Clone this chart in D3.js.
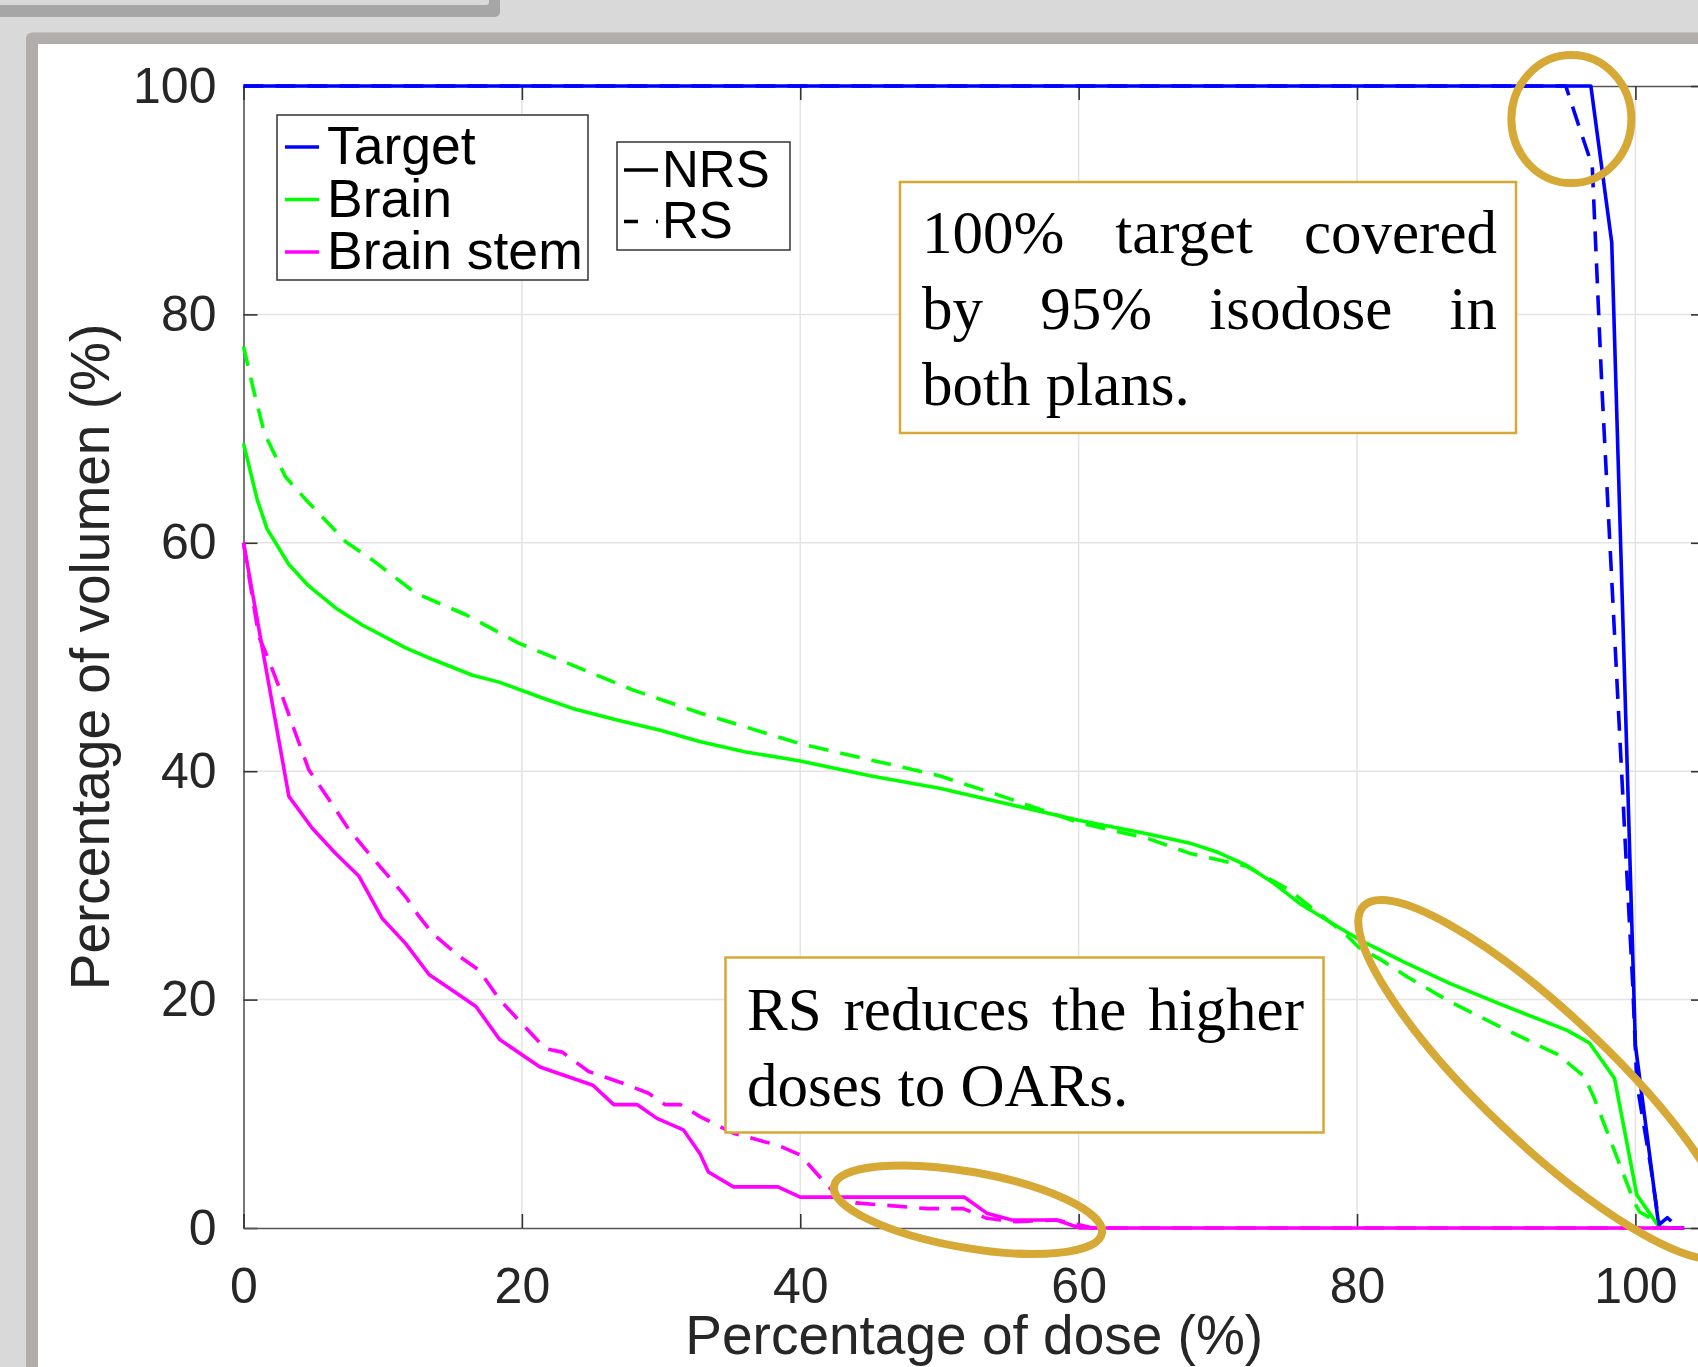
<!DOCTYPE html>
<html>
<head>
<meta charset="utf-8">
<script src="https://cdn.jsdelivr.net/npm/d3@7"></script>
<style>
  body { margin: 0; background: #d9d9d9; overflow: hidden; }
  svg { display: block; }
</style>
</head>
<body>
<div id="chart"></div>
<script>

// Dose volume histogram, NRS vs RS plan

const doseTicks = [0, 20, 40, 60, 80, 100];
const volTicks = [0, 20, 40, 60, 80, 100];
const structures = ["Target", "Brain", "Brain stem"];
const plans = ["NRS", "RS"];
const structColors = ["#0000ff", "#00ff00", "#ff00ff"];

// [dose %, volume %]
const targetNRS = [[0,100],[96.8,100],[98.3,86.3],[100.0,16],[101.7,0],[103.5,0]];
const targetRS = [[0,100],[95.0,100],[96.1,95.9],[96.9,93.0],[97.6,73.4],[99.3,33],[99.8,21.5],
  [100.1,12.7],[101.1,5.4],[101.7,0.3],[102.3,0.9],[103.1,0],[103.5,0]];

const brainNRS = [[0,68.7],[0.98,63.8],[1.7,61.2],[3.26,58.1],[4.7,56.2],[6.62,54.3],[8.53,52.8],
  [11.65,50.8],[13.57,49.8],[16.45,48.4],[18.37,47.8],[21.73,46.3],[23.64,45.5],[26.76,44.5],
  [29.88,43.6],[32.76,42.6],[36,41.7],[40,40.9],[45,39.6],[50,38.5],[55,37.1],[60,35.7],
  [65,34.5],[68,33.7],[70,32.9],[72,31.8],[74,30.2],[75.9,28.4],[79.0,26.1],[80.4,25.1],
  [83.35,23.3],[86.7,21.4],[90.3,19.6],[95.1,17.3],[96.7,16.2],[98.5,13.1],[100.1,2.9],
  [101.7,0.1],[102.6,0]];
const brainRS = [[0,77.2],[0.7,73.5],[1.5,69.6],[3.0,65.8],[4.46,63.8],[7.34,60.1],[9.25,58.5],
  [12.37,55.6],[15.97,53.7],[19.8,51.2],[23.2,49.5],[28.0,47.1],[32.8,45.1],[40,42.4],
  [45,41.0],[50,39.6],[55,37.6],[60,35.5],[65,34.1],[68,32.8],[72,31.7],[75,29.7],[79.2,25.7],
  [80.1,24.6],[81.7,23.5],[83.6,22.0],[86.7,19.8],[90.3,17.6],[94.4,15.2],[96.3,13.3],
  [97.0,11.5],[99.9,2.3],[100.3,1.4],[100.9,1.0],[101.7,0],[102.6,0]];

const stemNRS = [[0,60.0],[3.26,37.8],[4.94,35.0],[6.62,32.8],[8.3,30.8],[9.97,27.1],[11.65,24.9],
  [13.33,22.2],[15.97,20.0],[16.7,19.4],[18.4,16.5],[21.3,14.1],[25.1,12.5],[26.6,10.8],
  [28.3,10.8],[29.7,9.6],[31.6,8.6],[32.8,6.5],[33.4,4.9],[35.2,3.6],[38.4,3.6],[40.0,2.7],
  [51.8,2.7],[53.4,1.3],[55.2,0.7],[58.4,0.7],[60.1,0],[103.5,0]];
const stemRS = [[0,60],[1.1,51.8],[1.8,49.8],[2.54,47.4],[3.74,43.3],[4.7,40.1],[5.65,38.4],
  [7.57,34.9],[9.0,32.8],[10.2,31.1],[11.65,29.0],[12.6,27.3],[13.57,25.8],[15.5,23.8],
  [16.9,22.6],[18.4,20.0],[20,17.9],[21.7,15.7],[22.9,15.4],[24.8,13.7],[27.2,12.7],
  [29.1,11.8],[30.3,10.8],[31.4,10.8],[32.8,9.75],[35.2,8.3],[38.5,7.2],[40.0,6.4],
  [41.6,4.2],[42.8,2.6],[44.0,2.2],[49.1,1.7],[51.7,1.7],[53.4,0.85],[55.5,0.55],[58.4,0.7],
  [60.1,0.26],[61,0],[103.5,0]];

const note1 = ["100% target covered", "by 95% isodose in", "both plans."];
const note2 = ["RS reduces the higher", "doses to OARs."];

// page size
const width = 1698;
const height = 1367;
const plot = {left: 243.5, right: 1705, top: 86, bottom: 1228};
const sans = "'Liberation Sans', Arial, sans-serif";
const serif = "'Liberation Serif', 'Times New Roman', serif";
const gold = "#d6a936";

const svg = d3.select("#chart")
  .append("svg")
  .attr("width", width)
  .attr("height", height);

/* window frame */
svg.append("rect").attr("width", width).attr("height", height).attr("fill", "#d9d9d9");
svg.append("rect").attr("x", -10).attr("y", -10).attr("width", 510).attr("height", 27)
  .attr("rx", 5).attr("fill", "#a6a6a6");
svg.append("rect").attr("x", -10).attr("y", -10).attr("width", 499).attr("height", 15)
  .attr("rx", 3).attr("fill", "#d9d9d9");
svg.append("rect").attr("x", 26).attr("y", 32.5).attr("width", 1720).attr("height", 1400)
  .attr("rx", 6).attr("fill", "#b0adab");
svg.append("rect").attr("x", 38).attr("y", 44).attr("width", 1720).attr("height", 1400)
  .attr("fill", "#ffffff");

/* scales */
const xScale = d3.scaleLinear().domain([0, 105]).range([plot.left, plot.right]);
const yScale = d3.scaleLinear().domain([0, 100]).range([plot.bottom, plot.top]);

// grid
svg.append("g")
  .selectAll("line")
  .data(doseTicks.filter(d => d > 0))
  .enter().append("line")
    .attr("x1", d => xScale(d)).attr("x2", d => xScale(d))
    .attr("y1", plot.top).attr("y2", plot.bottom)
    .attr("stroke", "#e3e3e3").attr("stroke-width", 1.5);
svg.append("g")
  .selectAll("line")
  .data(volTicks.filter(d => d > 0 && d < 100))
  .enter().append("line")
    .attr("x1", plot.left).attr("x2", plot.right)
    .attr("y1", d => yScale(d)).attr("y2", d => yScale(d))
    .attr("stroke", "#e3e3e3").attr("stroke-width", 1.5);

// axes (ticks pointing inwards)
function styleAxis(g) {
  g.select(".domain").attr("stroke", "#555").attr("stroke-width", 1.6);
  g.selectAll(".tick line").attr("stroke", "#333").attr("stroke-width", 1.6);
  g.selectAll(".tick text").attr("fill", "#262626");
  g.attr("font-family", sans).attr("font-size", 50);
}

svg.append("g")
  .attr("transform", `translate(${plot.left},0)`)
  .call(d3.axisLeft(yScale).tickValues(volTicks).tickSize(-14).tickSizeOuter(0).tickPadding(27))
  .call(styleAxis);

svg.append("g")
  .attr("transform", `translate(0,${plot.bottom})`)
  .call(d3.axisBottom(xScale).tickValues(doseTicks).tickSize(-14).tickSizeOuter(0).tickPadding(39))
  .call(styleAxis);

svg.append("g")
  .attr("transform", `translate(0,${plot.top})`)
  .call(d3.axisTop(xScale).tickValues(doseTicks).tickSize(-14).tickSizeOuter(0).tickFormat(""))
  .call(styleAxis);

svg.append("g")
  .attr("transform", `translate(${plot.right},0)`)
  .call(d3.axisRight(yScale).tickValues(volTicks).tickSize(-14).tickSizeOuter(0).tickFormat(""))
  .call(styleAxis);

// axis titles
svg.append("text")
  .attr("x", (plot.left + plot.right) / 2)
  .attr("y", 1354)
  .attr("text-anchor", "middle")
  .attr("font-family", sans).attr("font-size", 55).attr("fill", "#262626")
  .text("Percentage of dose (%)");

svg.append("text")
  .attr("transform", `translate(109,${(plot.top + plot.bottom) / 2}) rotate(-90)`)
  .attr("text-anchor", "middle")
  .attr("font-family", sans).attr("font-size", 55).attr("fill", "#262626")
  .text("Percentage of volumen (%)");

/* curves */
svg.append("clipPath").attr("id", "plotclip")
  .append("rect")
    .attr("x", plot.left - 3).attr("y", plot.top - 3)
    .attr("width", plot.right - plot.left + 6).attr("height", plot.bottom - plot.top + 6);

const line = d3.line()
  .x(d => xScale(d[0]))
  .y(d => yScale(d[1]));

const curves = [
  {data: targetNRS, s: 0, dash: null},
  {data: brainNRS, s: 1, dash: null},
  {data: targetRS, s: 0, dash: "20,12"},
  {data: brainRS, s: 1, dash: "20,12"},
  {data: stemNRS, s: 2, dash: null},
  {data: stemRS, s: 2, dash: "20,12"}
];

svg.append("g")
  .attr("clip-path", "url(#plotclip)")
  .selectAll(".curve")
  .data(curves)
  .enter().append("path")
    .attr("class", "curve")
    .attr("d", d => line(d.data))
    .attr("fill", "none")
    .attr("stroke", d => structColors[d.s])
    .attr("stroke-width", 3.6)
    .attr("stroke-linejoin", "round")
    .attr("stroke-dasharray", d => d.dash);

/* legends */
const leg1 = svg.append("g");
leg1.append("rect")
  .attr("x", 277).attr("y", 115).attr("width", 311).attr("height", 165)
  .attr("fill", "#fff").attr("stroke", "#333").attr("stroke-width", 1.5);
structures.forEach((name, i) => {
  const cy = 147 + i * 52.5;
  leg1.append("line")
    .attr("x1", 285).attr("x2", 319).attr("y1", cy).attr("y2", cy)
    .attr("stroke", structColors[i]).attr("stroke-width", 3.6);
  leg1.append("text")
    .attr("x", 327).attr("y", cy + 17)
    .attr("font-family", sans).attr("font-size", 53.5).attr("fill", "#000")
    .text(name);
});

const leg2 = svg.append("g");
leg2.append("rect")
  .attr("x", 617).attr("y", 142).attr("width", 173).attr("height", 108)
  .attr("fill", "#fff").attr("stroke", "#333").attr("stroke-width", 1.5);
plans.forEach((name, i) => {
  const cy = 170 + i * 51.5;
  leg2.append("line")
    .attr("x1", 624).attr("x2", 658).attr("y1", cy).attr("y2", cy)
    .attr("stroke", "#000").attr("stroke-width", 3.6)
    .attr("stroke-dasharray", i === 1 ? "14,18" : null);
  leg2.append("text")
    .attr("x", 662).attr("y", cy + 16.5)
    .attr("font-family", sans).attr("font-size", 51).attr("fill", "#000")
    .text(name);
});

/* annotation boxes */
// lays out a paragraph, stretching every line but the last to the right edge
function noteBox(lines, box, textLeft, textRight, firstBase) {
  const g = svg.append("g");
  g.append("rect")
    .attr("x", box.x).attr("y", box.y).attr("width", box.w).attr("height", box.h)
    .attr("fill", "#fff").attr("stroke", gold).attr("stroke-width", 2.5);
  lines.forEach((txt, i) => {
    const base = firstBase + i * 76;
    if (i === lines.length - 1) {
      g.append("text")
        .attr("x", textLeft).attr("y", base)
        .attr("font-family", serif).attr("font-size", 61).attr("fill", "#000")
        .text(txt);
      return;
    }
    const words = txt.split(" ");
    const ts = words.map(w => g.append("text")
      .attr("y", base)
      .attr("font-family", serif).attr("font-size", 61).attr("fill", "#000")
      .text(w));
    const widths = ts.map(t => t.node().getComputedTextLength());
    const gap = (textRight - textLeft - d3.sum(widths)) / (words.length - 1);
    let x = textLeft;
    ts.forEach((t, j) => { t.attr("x", x); x += widths[j] + gap; });
  });
}

noteBox(note1, {x: 900, y: 182, w: 616, h: 251}, 922, 1497, 253);
noteBox(note2, {x: 725.5, y: 957.5, w: 598, h: 175}, 747, 1304, 1030);

/* highlight ellipses */
const rings = [
  {dose: 95.4, vol: 97.1, rx: 60, ry: 64, angle: 0},
  {dose: 93.6, vol: 13.0, rx: 252, ry: 64, angle: 43.5},
  {dose: 52.05, vol: 1.6, rx: 136, ry: 38, angle: 10}
];
svg.append("g")
  .selectAll("ellipse")
  .data(rings)
  .enter().append("ellipse")
    .attr("cx", d => xScale(d.dose))
    .attr("cy", d => yScale(d.vol))
    .attr("rx", d => d.rx)
    .attr("ry", d => d.ry)
    .attr("transform", d => `rotate(${d.angle},${xScale(d.dose)},${yScale(d.vol)})`)
    .attr("fill", "none")
    .attr("stroke", gold)
    .attr("stroke-width", 8);

</script>
</body>
</html>
